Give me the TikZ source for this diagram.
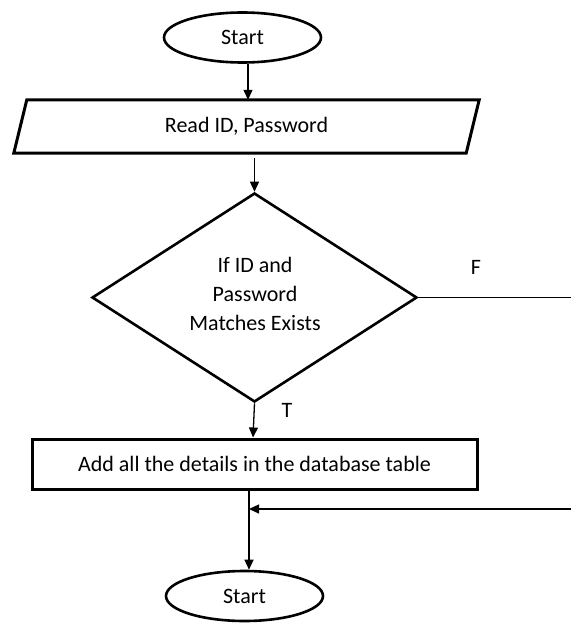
\documentclass[tikz,border=0pt]{standalone}
\usepackage{fontspec}
\setmainfont{Carlito}
\usetikzlibrary{shapes.geometric,arrows.meta}
\begin{document}
\begin{tikzpicture}[x=1pt,y=-1pt,
  every node/.style={font=\fontsize{22}{29}\selectfont, text=black},
  shapeline/.style={line width=3pt, line join=miter},
  term/.style={ellipse, draw, line width=2.6pt, minimum width=157pt, minimum height=50pt, inner sep=0pt},
  procbox/.style={rectangle, draw, line width=3pt, minimum width=445pt, minimum height=50pt, inner sep=0pt},
  decbox/.style={diamond, draw, line width=2.6pt, minimum width=325pt, minimum height=209pt, inner sep=0pt},
  arr/.style={line width=1.3pt, -{Triangle[length=10pt,width=9pt]}},
  thinline/.style={line width=1.3pt}]
\useasboundingbox (0,0) rectangle (571,623);

\node[term] (start) at (242.5,37.5) {Start};
\node[minimum width=452pt, minimum height=53pt, inner sep=0pt] (read) at (246.5,126.5) {Read ID, Password};
\draw[shapeline] ([xshift=6.5pt]read.north west) -- ([xshift=6.5pt]read.north east)
  -- ([xshift=-6.5pt]read.south east) -- ([xshift=-6.5pt]read.south west) -- cycle;
\node[decbox] (dec) at (254.5,297.5) {};
\node[align=center] (dectext) at (255,293.5) {If ID and\\Password\\Matches Exists};
\node[procbox] (act) at (254.5,464) {Add all the details in the database table};
\node[term] (stop) at (244.5,596) {Start};

\coordinate (fend) at (571,297.5);
\coordinate (j) at (249,509);
\coordinate (rend) at (571,509);

\draw[arr] ([xshift=5.5pt]start.south) -- ([xshift=5.5pt]start.south |- read.north);
\draw[arr] ([yshift=-5pt]read.south -| dec.north) -- (dec.north);
\draw[arr] (dec.south) -- ([xshift=-1.5pt]act.north);
\draw[thinline] (dec.east) -- (fend);
\draw[thinline] (j |- act.south) -- (j);
\draw[arr] (j) -- (j |- stop.north);
\draw[arr] (rend) -- (j);

\node (flab) at (476,267) {F};
\node (tlab) at (287,410) {T};
\end{tikzpicture}
\end{document}
